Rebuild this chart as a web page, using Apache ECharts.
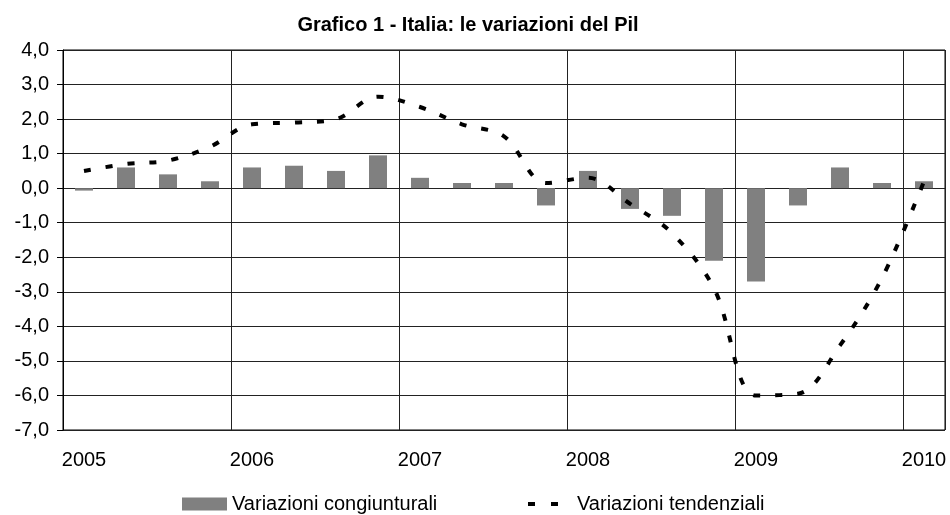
<!DOCTYPE html>
<html>
<head>
<meta charset="utf-8">
<script src="https://cdn.jsdelivr.net/npm/echarts@6/dist/echarts.min.js"></script>
<style>
  html, body { margin: 0; padding: 0; background: #fff; }
  #main { width: 950px; height: 515px; }
</style>
</head>
<body>
<div id="main"></div>
<script>
// trimestri 2005 - 2010
var quarters = [
  '2005 T1','2005 T2','2005 T3','2005 T4',
  '2006 T1','2006 T2','2006 T3','2006 T4',
  '2007 T1','2007 T2','2007 T3','2007 T4',
  '2008 T1','2008 T2','2008 T3','2008 T4',
  '2009 T1','2009 T2','2009 T3','2009 T4',
  '2010 T1'
];
var yearLabels = ['2005','2006','2007','2008','2009','2010'];

// variazioni congiunturali (barre)
var congiunturali = [-0.07, 0.6, 0.4, 0.2, 0.6, 0.65, 0.5, 0.95, 0.3, 0.15, 0.15, -0.5,
                     0.5, -0.6, -0.8, -2.1, -2.7, -0.5, 0.6, 0.15, 0.2];
// variazioni tendenziali (linea tratteggiata)
var tendenziali = [0.5, 0.7, 0.8, 1.2, 1.85, 1.9, 2.0, 2.65, 2.35, 1.85, 1.5, 0.15,
                   0.3, -0.45, -1.3, -2.9, -6.0, -5.95, -4.55, -2.6, 0.2];

var FONT = 'Arial, "Liberation Sans", sans-serif';

var myChart = echarts.init(document.getElementById('main'), null, {renderer: 'canvas'});

var option = {
  backgroundColor: '#fff',
  animation: false,
  title: {
    text: 'Grafico 1 - Italia: le variazioni del Pil',
    left: 463,
    textAlign: 'center',
    top: 10,
    textStyle: {fontFamily: FONT, fontSize: 20, fontWeight: 'bold', color: '#000'}
  },
  legend: [{
    data: [{name: 'Variazioni congiunturali', icon: 'rect'}],
    left: 177,
    top: 489,
    itemWidth: 45,
    itemHeight: 13,
    textStyle: {fontFamily: FONT, fontSize: 20, color: '#000'}
  }, {
    // icona: due trattini come nel grafico originale
    data: [{name: 'Variazioni tendenziali', icon: 'path://M0,0h7v4h-7z M23,0h7v4h-7z'}],
    left: 523,
    top: 489,
    itemWidth: 30,
    itemHeight: 4,
    itemStyle: {color: '#000'},
    textStyle: {fontFamily: FONT, fontSize: 20, color: '#000', padding: [0, 0, 0, 14]}
  }],
  grid: {
    left: 63,
    right: 5,
    top: 50,
    bottom: 85,
    show: true,
    borderColor: '#000',
    borderWidth: 1
  },
  xAxis: {
    type: 'category',
    data: quarters,
    boundaryGap: true,
    axisLine: {show: false, onZero: false},
    axisTick: {show: false},
    axisLabel: {
      interval: 0,
      margin: 20,
      fontFamily: FONT,
      fontSize: 20,
      color: '#000',
      formatter: function (value, index) {
        return index % 4 === 0 ? yearLabels[index / 4] : '';
      }
    },
    splitLine: {
      show: true,
      interval: function (index) { return index % 4 === 0; },
      lineStyle: {color: '#222', width: 1}
    }
  },
  yAxis: {
    type: 'value',
    min: -7,
    max: 4,
    interval: 1,
    axisLine: {show: true, lineStyle: {color: '#000'}},
    axisTick: {show: true, length: 6, lineStyle: {color: '#000'}},
    axisLabel: {
      margin: 14,
      fontFamily: FONT,
      fontSize: 20,
      color: '#000',
      formatter: function (v) { return v.toFixed(1).replace('.', ','); }
    },
    splitLine: {show: true, lineStyle: {color: '#222', width: 1}}
  },
  series: [{
    name: 'Variazioni congiunturali',
    type: 'bar',
    barWidth: 18,
    itemStyle: {color: '#808080'},
    data: congiunturali
  }, {
    name: 'Variazioni tendenziali',
    type: 'line',
    smooth: 0.35,
    symbol: 'none',
    showSymbol: false,
    itemStyle: {color: '#000'},
    lineStyle: {color: '#000', width: 4, type: [7, 15], cap: 'butt'},
    data: tendenziali
  }]
};

myChart.setOption(option);
</script>
</body>
</html>
